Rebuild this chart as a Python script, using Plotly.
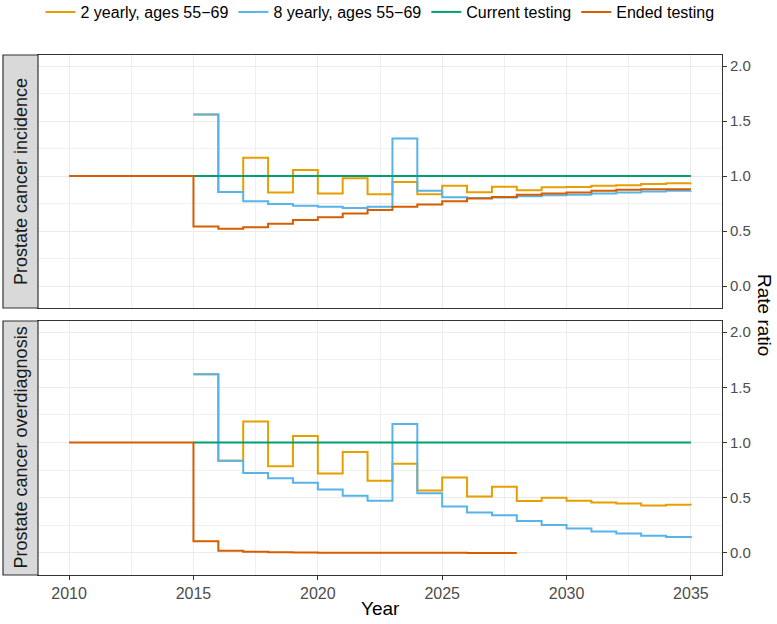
import plotly.graph_objects as go

# ---------------- data ----------------
years_ended_inc = [2010, 2011, 2012, 2013, 2014, 2015, 2016, 2017, 2018, 2019, 2020, 2021, 2022,
                   2023, 2024, 2025, 2026, 2027, 2028, 2029, 2030, 2031, 2032, 2033, 2034, 2035]
years_screen = [2015, 2016, 2017, 2018, 2019, 2020, 2021, 2022, 2023, 2024, 2025,
                2026, 2027, 2028, 2029, 2030, 2031, 2032, 2033, 2034, 2035]
years_ended_od = [2010, 2011, 2012, 2013, 2014, 2015, 2016, 2017, 2018, 2019, 2020,
                  2021, 2022, 2023, 2024, 2025, 2026, 2027, 2028]

# Prostate cancer incidence
inc_2yearly = [1.56, 0.855, 1.166, 0.85, 1.054, 0.84, 0.98, 0.834, 0.946, 0.834, 0.912,
               0.852, 0.903, 0.87, 0.897, 0.90, 0.912, 0.915, 0.927, 0.933, 0.935]
inc_8yearly = [1.56, 0.855, 0.77, 0.746, 0.73, 0.72, 0.71, 0.72, 1.34, 0.867, 0.806,
               0.80, 0.805, 0.815, 0.825, 0.83, 0.84, 0.85, 0.86, 0.865, 0.867]
inc_current = [1.0, 1.0, 1.0, 1.0, 1.0, 1.0, 1.0, 1.0, 1.0, 1.0, 1.0,
               1.0, 1.0, 1.0, 1.0, 1.0, 1.0, 1.0, 1.0, 1.0, 1.0]
inc_ended = [1.0, 1.0, 1.0, 1.0, 1.0, 0.54, 0.52, 0.535, 0.565, 0.60, 0.625, 0.66, 0.69,
             0.72, 0.74, 0.77, 0.795, 0.81, 0.83, 0.84, 0.85, 0.865, 0.875, 0.88, 0.88, 0.88]

# Prostate cancer overdiagnosis
od_2yearly = [1.618, 0.835, 1.189, 0.784, 1.059, 0.72, 0.914, 0.654, 0.808, 0.566, 0.684,
              0.51, 0.60, 0.47, 0.50, 0.472, 0.457, 0.448, 0.43, 0.436, 0.433]
od_8yearly = [1.618, 0.835, 0.723, 0.675, 0.636, 0.575, 0.518, 0.472, 1.168, 0.54, 0.42,
              0.367, 0.34, 0.288, 0.252, 0.22, 0.194, 0.176, 0.155, 0.145, 0.137]
od_current = [1.0, 1.0, 1.0, 1.0, 1.0, 1.0, 1.0, 1.0, 1.0, 1.0, 1.0,
              1.0, 1.0, 1.0, 1.0, 1.0, 1.0, 1.0, 1.0, 1.0, 1.0]
od_ended = [1.0, 1.0, 1.0, 1.0, 1.0, 0.105, 0.02, 0.01, 0.005, 0.003, 0.002,
            0.002, 0.001, 0.001, 0.001, 0.001, 0.0, 0.0, 0.0]

series_names = ["2 yearly, ages 55\u221269", "8 yearly, ages 55\u221269",
                "Current testing", "Ended testing"]
colors = ["#E69F00", "#56B4E9", "#009E73", "#D55E00"]
panel_labels = ["Prostate cancer incidence", "Prostate cancer overdiagnosis"]

# ---------------- figure ----------------
FONT = "Liberation Sans, Arial, sans-serif"
fig = go.Figure()

panels = [
    ("x2", "y2", [(years_screen, inc_2yearly), (years_screen, inc_8yearly),
                  (years_screen, inc_current), (years_ended_inc, inc_ended)], True),
    ("x", "y", [(years_screen, od_2yearly), (years_screen, od_8yearly),
                (years_screen, od_current), (years_ended_od, od_ended)], False),
]
for xa, ya, data, show in panels:
    for i, (xs, ys) in enumerate(data):
        fig.add_trace(go.Scatter(
            x=xs, y=ys, mode="lines", line=dict(color=colors[i], width=2, shape="hv"),
            name=series_names[i], legendgroup=series_names[i], showlegend=show,
            xaxis=xa, yaxis=ya, hoverinfo="skip"))

# the page's body margin is removed below, so figure coords == window coords
W, H = 777, 624
left, right, top, bottom = 38, 722, 55, 575
ml, mr, mt, mb = left, W - right, top, H - bottom
plot_w = right - left
plot_h = bottom - top


def py(win_y):
    return (bottom - win_y) / plot_h


def px(win_x):
    return (win_x - left) / plot_w


top_dom = [py(308), 1.0]
bot_dom = [0.0, py(321)]

grid_major = "#EBEBEB"
common_x = dict(range=[2008.75, 2036.25], tick0=2010, dtick=5, showgrid=True,
                gridcolor=grid_major, gridwidth=1.1, zeroline=False, automargin=False,
                showline=True, mirror=True, linecolor="#333333", linewidth=1,
                minor=dict(dtick=2.5, tick0=2010, showgrid=True, gridcolor="#F0F0F0", gridwidth=0.6))
common_y = dict(range=[-0.2, 2.1], tick0=0, dtick=0.5, tickformat=".1f", showgrid=True,
                gridcolor=grid_major, gridwidth=1.1, zeroline=False, side="right",
                automargin=False,
                showline=True, mirror=True, linecolor="#333333", linewidth=1,
                ticks="outside", ticklen=4, tickcolor="#333333",
                tickfont=dict(size=15, color="#4D4D4D", family=FONT),
                minor=dict(dtick=0.25, tick0=0, showgrid=True, gridcolor="#F0F0F0", gridwidth=0.6))

fig.update_layout(
    width=W, height=H, margin=dict(l=ml, r=mr, t=mt, b=mb, autoexpand=False),
    paper_bgcolor="white", plot_bgcolor="white",
    font=dict(family=FONT, color="black"),
    xaxis=dict(common_x, anchor="y", ticks="outside", ticklen=4, tickcolor="#333333",
               tickfont=dict(size=16, color="#4D4D4D", family=FONT)),
    xaxis2=dict(common_x, anchor="y2", matches="x", showticklabels=False, ticks=""),
    yaxis=dict(common_y, domain=bot_dom, anchor="x"),
    yaxis2=dict(common_y, domain=top_dom, anchor="x2"),
    legend=dict(orientation="h", x=0.5, xanchor="center", xref="paper",
                yref="container", y=1 - 12 / H, yanchor="middle",
                font=dict(size=16, family=FONT, color="black"),
                itemwidth=30, bgcolor="rgba(0,0,0,0)", traceorder="normal"),
    showlegend=True,
)

# strips on the left
strip_x0 = (3 - left) / plot_w
for dom, label in [(top_dom, panel_labels[0]), (bot_dom, panel_labels[1])]:
    fig.add_shape(type="rect", xref="paper", yref="paper", x0=strip_x0, x1=0,
                  y0=dom[0], y1=dom[1], fillcolor="#D9D9D9",
                  line=dict(color="#333333", width=1.2), layer="above")
    fig.add_annotation(text=label, xref="paper", yref="paper",
                       x=strip_x0 / 2, y=(dom[0] + dom[1]) / 2, textangle=-90,
                       showarrow=False, font=dict(size=18, family=FONT, color="#1A1A1A"),
                       xanchor="center", yanchor="middle")

# axis titles
fig.add_annotation(text="Rate ratio", xref="paper", yref="paper",
                   x=px(765), y=0.5, textangle=90,
                   showarrow=False, font=dict(size=19, family=FONT, color="black"),
                   xanchor="center", yanchor="middle")
fig.add_annotation(text="Year", xref="paper", yref="paper",
                   x=0.5, y=py(608), showarrow=False,
                   font=dict(size=19, family=FONT, color="black"),
                   xanchor="center", yanchor="middle")

fig.write_html("out.html", config={"displayModeBar": False},
               post_script="document.body.style.margin='0';document.body.style.overflow='hidden';")
